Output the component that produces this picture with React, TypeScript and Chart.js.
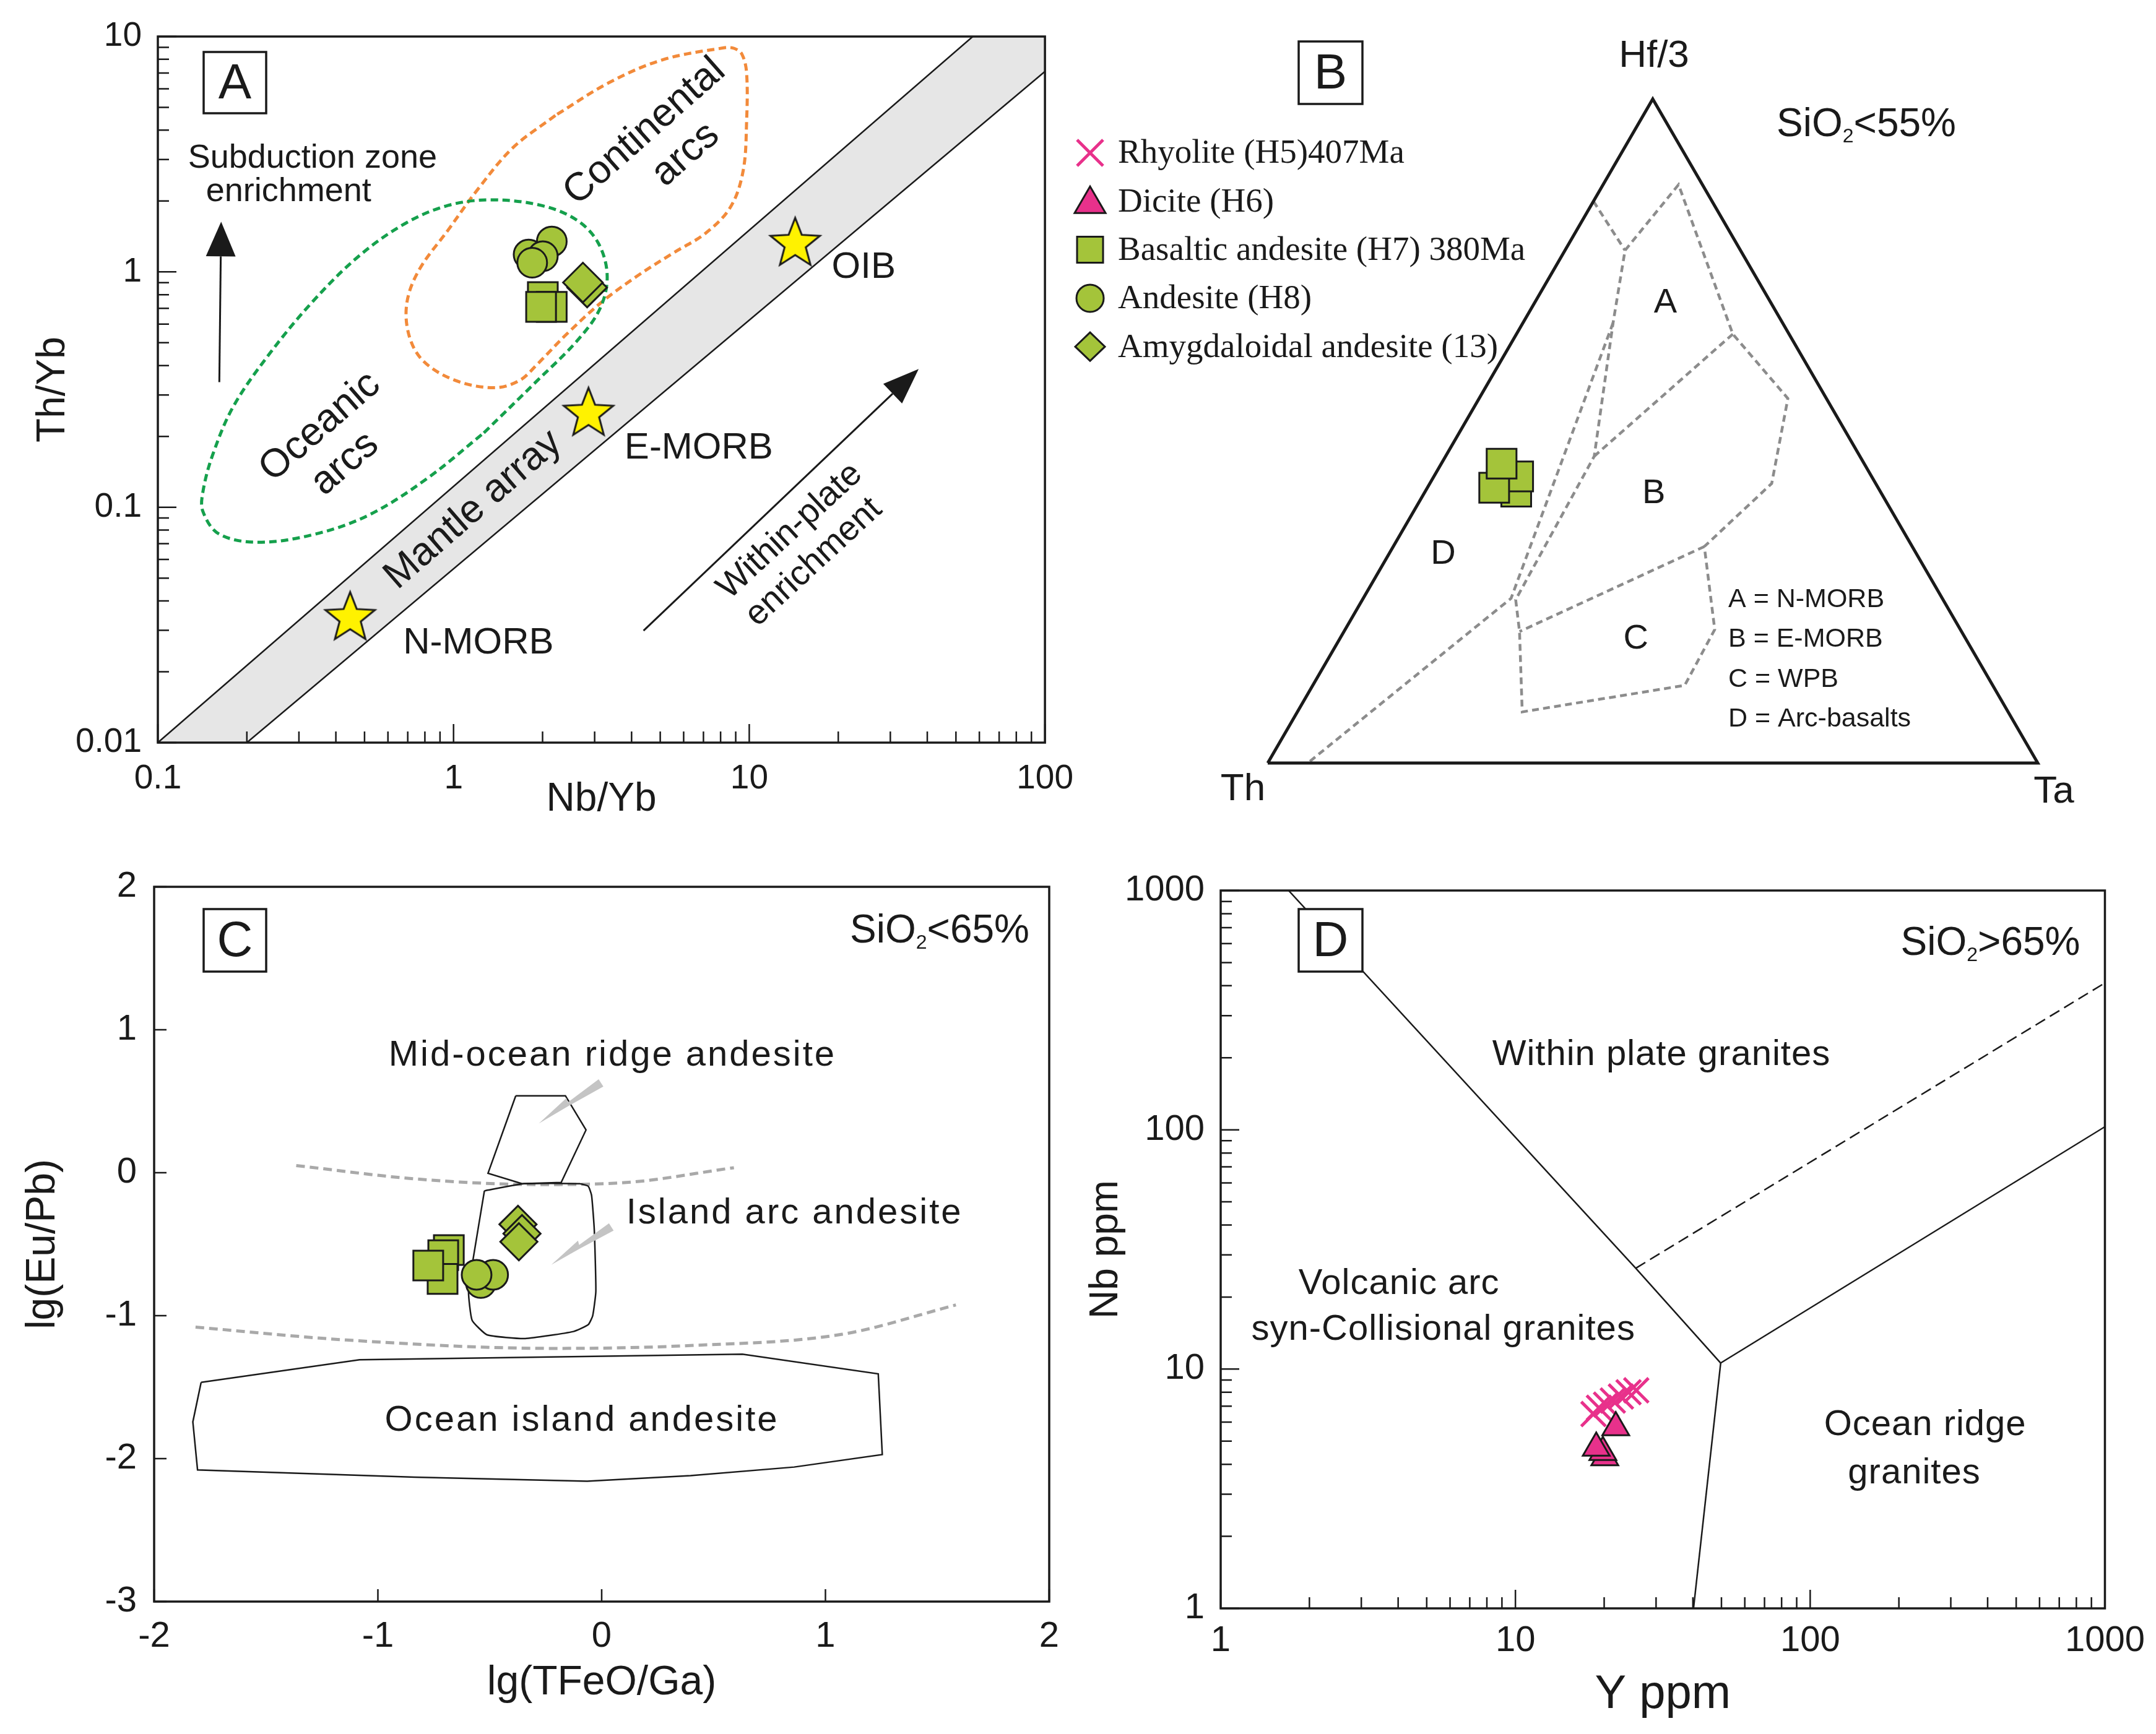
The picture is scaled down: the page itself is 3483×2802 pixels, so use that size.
import React, { useEffect, useRef } from 'react';
import { Chart, registerables } from 'chart.js';

Chart.register(...registerables);

type XY = [number, number];
type Tern = [number, number, number]; // [Th, Hf/3, Ta]

/* ---------------- Panel A : Th/Yb vs Nb/Yb ---------------- */
const aNbYbTicks = [0.1, 1, 10, 100];
const aThYbTicks = [0.01, 0.1, 1, 10];
const aNbYbDecades = [0.1, 1, 10];
const aThYbDecades = [0.01, 0.1, 1];
const minorSteps = [2, 3, 4, 5, 6, 7, 8, 9];
const aMantleBand: XY[] = [[0.1, 0.01], [57, 10], [100, 10], [100, 7.1], [0.2, 0.01], [0.1, 0.01]];
const aMantleUpper: XY[] = [[0.1, 0.01], [57, 10]];
const aMantleLower: XY[] = [[0.2, 0.01], [100, 7.1]];
const aOceanicArcs: XY[] = [
  [1.266, 0.207], [1.923, 0.346], [2.612, 0.508], [3.129, 0.699], [3.308, 0.963], [3.086, 1.326],
  [2.612, 1.659], [1.977, 1.916], [1.339, 2.023], [0.959, 1.916], [0.687, 1.607], [0.478, 1.166],
  [0.333, 0.745], [0.238, 0.447], [0.18, 0.268], [0.153, 0.166], [0.142, 0.116], [0.142, 0.096],
  [0.161, 0.077], [0.219, 0.071], [0.342, 0.077], [0.52, 0.093], [0.811, 0.132], [1.266, 0.207],
];
const aContinentalArcs: XY[] = [
  [2.21, 4.62], [1.582, 3.355], [1.198, 2.213], [0.959, 1.507], [0.767, 1.026], [0.696, 0.745],
  [0.706, 0.541], [0.789, 0.419], [1.013, 0.346], [1.377, 0.322], [1.673, 0.346], [1.923, 0.406],
  [2.402, 0.541], [3.173, 0.745], [4.194, 0.963], [5.538, 1.204], [7.114, 1.459], [8.643, 1.886],
  [9.532, 2.681], [9.795, 4.335], [9.795, 7.003], [9.45, 8.4], [8.9, 8.9], [8.2, 8.95],
  [5.094, 7.963], [3.355, 6.366], [2.21, 4.62],
];
const aRefStars: XY[] = [[0.447, 0.0347], [2.86, 0.256], [14.3, 1.35]];
const aAndesite: XY[] = [[2.149, 1.347], [1.794, 1.185], [2.004, 1.166], [1.845, 1.094]];
const aBasaltic: XY[] = [[2.004, 0.782], [2.148, 0.71], [1.977, 0.71]];
const aAmygdaloidal: XY[] = [[2.83, 0.858], [2.738, 0.901]];
const aSubductionArrow: XY[] = [[0.1614, 0.3402], [0.1637, 1.633]];
const aWithinPlateArrow: XY[] = [[4.39, 0.0299], [37.4, 0.387]];
const aLabels = [
  { t: 'Subduction zone', x: 0.3334, y: 3.03, size: 54, rot: 0 },
  { t: 'enrichment', x: 0.2768, y: 2.18, size: 54, rot: 0 },
  { t: 'Continental', x: 4.434, y: 3.937, size: 64, rot: -41.5 },
  { t: 'arcs', x: 6.102, y: 3.147, size: 64, rot: -41.5 },
  { t: 'Oceanic', x: 0.354, y: 0.2194, size: 64, rot: -41 },
  { t: 'arcs', x: 0.4298, y: 0.1528, size: 64, rot: -41 },
  { t: 'Mantle array', x: 1.166, y: 0.0974, size: 64, rot: -41 },
  { t: 'N-MORB', x: 1.214, y: 0.0265, size: 60, rot: 0 },
  { t: 'E-MORB', x: 6.75, y: 0.1781, size: 60, rot: 0 },
  { t: 'OIB', x: 24.38, y: 1.04, size: 60, rot: 0 },
  { t: 'Within-plate', x: 13.73, y: 0.0791, size: 56, rot: -42.7 },
  { t: 'enrichment', x: 16.55, y: 0.0583, size: 56, rot: -42.7 },
];

/* ---------------- Panel B : Hf/3 - Th - Ta ---------------- */
const bTriangle: Tern[] = [[1, 0, 0], [0, 0, 1], [0, 1, 0], [1, 0, 0]];
const bLineNearApex: Tern[] = [[0.154, 0.846, 0], [0.15, 0.772, 0.078]];
const bLineOuter: Tern[] = [
  [0.15, 0.772, 0.078], [0.031, 0.871, 0.098], [0.073, 0.646, 0.281], [0.05, 0.549, 0.401],
  [0.135, 0.421, 0.444], [0.27, 0.326, 0.404], [0.319, 0.201, 0.48], [0.4, 0.117, 0.483],
  [0.631, 0.077, 0.292], [0.574, 0.198, 0.228], [0.555, 0.246, 0.199], [0.345, 0.462, 0.193],
  [0.22, 0.663, 0.117], [0.15, 0.772, 0.078],
];
const bLineArc: Tern[] = [[0.22, 0.663, 0.117], [0.56, 0.248, 0.192], [0.948, 0, 0.052]];
const bLineAB: Tern[] = [[0.073, 0.646, 0.281], [0.345, 0.462, 0.193]];
const bLineBC: Tern[] = [[0.27, 0.326, 0.404], [0.574, 0.198, 0.228]];
const bBasaltic: Tern[] = [[0.473, 0.4086, 0.1184], [0.459, 0.4316, 0.1094], [0.4986, 0.4146, 0.0868], [0.4709, 0.4508, 0.0783]];
const bFieldNames = ['A', 'B', 'C', 'D'];
const bFieldCentres: Tern[] = [[0.137, 0.6927, 0.17], [0.2958, 0.4059, 0.2983], [0.4285, 0.187, 0.3845], [0.6149, 0.3145, 0.0706]];
const bFieldKey = ['A = N-MORB', 'B = E-MORB', 'C = WPB', 'D = Arc-basalts'];
const legendLabels = ['Rhyolite (H5)407Ma', 'Dicite (H6)', 'Basaltic andesite (H7) 380Ma', 'Andesite (H8)', 'Amygdaloidal andesite (13)'];
const legendShapes = ['crossRot', 'triangle', 'rect', 'circle', 'rectRot'];

/* ---------------- Panel C : lg(Eu/Pb) vs lg(TFeO/Ga) ---------------- */
const cXTicks = [-2, -1, 0, 1, 2];
const cYTicks = [-3, -2, -1, 0, 1, 2];
const cMidOceanRidge: XY[] = [[-0.384, 0.538], [-0.162, 0.538], [-0.07, 0.299], [-0.181, -0.068], [-0.356, -0.077], [-0.508, -0.004], [-0.384, 0.538]];
const cIslandArc: XY[] = [
  [-0.524, -0.126], [-0.347, -0.077], [-0.098, -0.077], [-0.06, -0.095], [-0.045, -0.16], [-0.033, -0.4],
  [-0.026, -0.83], [-0.04, -1.0], [-0.06, -1.063], [-0.126, -1.111], [-0.342, -1.16], [-0.512, -1.134],
  [-0.579, -1.032], [-0.595, -0.834], [-0.577, -0.628], [-0.524, -0.126],
];
const cOceanIsland: XY[] = [
  [-1.79, -1.466], [-1.082, -1.308], [0.629, -1.269], [1.236, -1.407], [1.254, -1.972], [0.86, -2.059],
  [0.397, -2.119], [-0.065, -2.158], [-0.835, -2.13], [-1.806, -2.079], [-1.827, -1.743], [-1.79, -1.466],
];
const cUpperBoundary: XY[] = [[-1.365, 0.05], [-0.835, -0.043], [-0.281, -0.083], [0.089, -0.071], [0.591, 0.035]];
const cLowerBoundary: XY[] = [[-1.815, -1.08], [-1.143, -1.17], [-0.219, -1.229], [0.397, -1.209], [1.075, -1.13], [1.583, -0.925]];
const cBasaltic: XY[] = [[-0.683, -0.541], [-0.708, -0.577], [-0.711, -0.743], [-0.775, -0.649]];
const cAndesite: XY[] = [[-0.54, -0.772], [-0.485, -0.714], [-0.559, -0.714]];
const cAmygdaloidal: XY[] = [[-0.374, -0.361], [-0.356, -0.426], [-0.37, -0.483]];
const cPointers: XY[][] = [[[-0.003, 0.628], [-0.281, 0.344]], [[0.043, -0.379], [-0.225, -0.644]]];
const cLabels = [
  { t: 'Mid-ocean ridge andesite', x: 0.044, y: 0.818 },
  { t: 'Island arc andesite', x: 0.858, y: -0.284 },
  { t: 'Ocean island andesite', x: -0.0925, y: -1.738 },
];

/* ---------------- Panel D : Nb vs Y ---------------- */
const dYTicks = [1, 10, 100, 1000];
const dNbTicks = [1, 10, 100, 1000];
const dDecades = [1, 10, 100];
const dWpgBoundary: XY[] = [[1.7, 1000], [25.6, 26.4], [49.7, 10.6]];
const dOrgBoundary: XY[] = [[49.7, 10.6], [1000, 103]];
const dVagBoundary: XY[] = [[49.7, 10.6], [40.2, 1]];
const dDashedBoundary: XY[] = [[25.6, 26.4], [1000, 411]];
const dRhyolite: XY[] = [[18.4, 6.49], [19.2, 6.89], [20.3, 7.1], [21.4, 7.39], [22.8, 7.68], [24.2, 8.0], [25.7, 8.15]];
const dDicite: XY[] = [[20.1, 4.27], [19.8, 4.49], [18.8, 4.68], [21.9, 5.7]];
const dLabels = [
  { t: 'Within plate granites', x: 31.2, y: 205 },
  { t: 'Volcanic arc', x: 4.02, y: 22.6 },
  { t: 'syn-Collisional granites', x: 5.68, y: 14.6 },
  { t: 'Ocean ridge', x: 245, y: 5.84 },
  { t: 'granites', x: 225, y: 3.66 },
];

/* ---------------- styling ---------------- */
const SANS = '"Liberation Sans", Arial, Helvetica, sans-serif';
const SERIF = '"Liberation Serif", "Times New Roman", serif';
const INK = '#1a1a1a';
const GREEN = '#a4c43a';
const PINK = '#e8318b';
const GREEN_DASH = '#15a04c';
const ORANGE_DASH = '#f28a3a';
const BAND = '#e6e6e6';
const GRAY_B = '#8c8c8c';
const GRAY_C = '#a9a9a9';

const P = (arr: XY[]) => arr.map(([x, y]) => ({ x, y }));
const H = Math.sqrt(3) / 2;
const T = (arr: Tern[]) =>
  arr.map(([th, hf, ta]) => {
    const s = th + hf + ta;
    return { x: (ta + hf / 2) / s, y: (hf / s) * H };
  });
const minorOf = (decades: number[]) => decades.flatMap((d) => minorSteps.map((m) => d * m));

function makeStar(outer: number, inner: number) {
  const c = document.createElement('canvas');
  const s = Math.ceil(outer * 2 + 8);
  c.width = s;
  c.height = s;
  const g = c.getContext('2d') as CanvasRenderingContext2D;
  g.translate(s / 2, s / 2 + outer * 0.1);
  g.beginPath();
  for (let i = 0; i < 10; i++) {
    const r = i % 2 === 0 ? outer : inner;
    const a = -Math.PI / 2 + (i * Math.PI) / 5;
    g.lineTo(r * Math.cos(a), r * Math.sin(a));
  }
  g.closePath();
  g.fillStyle = '#fff200';
  g.fill();
  g.lineWidth = 3;
  g.lineJoin = 'miter';
  g.strokeStyle = INK;
  g.stroke();
  return c;
}

function text(ctx: CanvasRenderingContext2D, s: string, x: number, y: number, size: number, o: any = {}) {
  ctx.save();
  ctx.translate(x, y);
  if (o.rot) ctx.rotate((o.rot * Math.PI) / 180);
  ctx.font = `${size}px ${o.family || SANS}`;
  (ctx as any).letterSpacing = `${o.spacing || 0}px`;
  ctx.fillStyle = o.color || INK;
  ctx.textAlign = o.align || 'center';
  ctx.textBaseline = 'middle';
  const dx = o.spacing && !o.align ? o.spacing / 2 : 0;
  ctx.fillText(s, dx, 0);
  ctx.restore();
}

function sio2(ctx: CanvasRenderingContext2D, right: number, y: number, size: number, rest: string) {
  ctx.save();
  ctx.font = `${size}px ${SANS}`;
  const w1 = ctx.measureText('SiO').width;
  const w3 = ctx.measureText(rest).width;
  ctx.font = `${size * 0.5}px ${SANS}`;
  const w2 = ctx.measureText('2').width;
  ctx.restore();
  const x0 = right - (w1 + w2 + w3);
  text(ctx, 'SiO', x0, y, size, { align: 'left' });
  text(ctx, '2', x0 + w1, y + size * 0.3, size * 0.5, { align: 'left' });
  text(ctx, rest, x0 + w1 + w2, y, size, { align: 'left' });
}

function letterBox(ctx: CanvasRenderingContext2D, x: number, y: number, w: number, h: number, letter: string) {
  ctx.save();
  ctx.fillStyle = '#fff';
  ctx.fillRect(x, y, w, h);
  ctx.strokeStyle = INK;
  ctx.lineWidth = 3.5;
  ctx.strokeRect(x, y, w, h);
  ctx.restore();
  text(ctx, letter, x + w / 2, y + h / 2 + 3, 80);
}

function frame(c: any) {
  const { ctx, chartArea: a } = c;
  ctx.save();
  ctx.strokeStyle = INK;
  ctx.lineWidth = 3.5;
  ctx.strokeRect(a.left, a.top, a.right - a.left, a.bottom - a.top);
  ctx.restore();
}

function insideTicks(c: any, axis: 'x' | 'y', values: number[], len: number) {
  const { ctx, chartArea: a } = c;
  const s = c.scales[axis];
  ctx.save();
  ctx.strokeStyle = INK;
  ctx.lineWidth = 2.5;
  ctx.beginPath();
  for (const v of values) {
    const p = s.getPixelForValue(v);
    if (axis === 'x') {
      ctx.moveTo(p, a.bottom);
      ctx.lineTo(p, a.bottom - len);
    } else {
      ctx.moveTo(a.left, p);
      ctx.lineTo(a.left + len, p);
    }
  }
  ctx.stroke();
  ctx.restore();
}

const px = (c: any, x: number, y: number) => [c.scales.x.getPixelForValue(x), c.scales.y.getPixelForValue(y)];

function arrow(c: any, seg: XY[], headLen: number, headW: number) {
  const ctx = c.ctx as CanvasRenderingContext2D;
  const [x1, y1] = px(c, seg[0][0], seg[0][1]);
  const [x2, y2] = px(c, seg[1][0], seg[1][1]);
  const ang = Math.atan2(y2 - y1, x2 - x1);
  const bx = x2 - headLen * Math.cos(ang);
  const by = y2 - headLen * Math.sin(ang);
  ctx.save();
  ctx.strokeStyle = INK;
  ctx.fillStyle = INK;
  ctx.lineWidth = 3;
  ctx.beginPath();
  ctx.moveTo(x1, y1);
  ctx.lineTo(bx, by);
  ctx.stroke();
  ctx.beginPath();
  ctx.moveTo(x2, y2);
  ctx.lineTo(bx - (headW / 2) * Math.sin(ang), by + (headW / 2) * Math.cos(ang));
  ctx.lineTo(bx + (headW / 2) * Math.sin(ang), by - (headW / 2) * Math.cos(ang));
  ctx.closePath();
  ctx.fill();
  ctx.restore();
}

function pointer(c: any, seg: XY[]) {
  const ctx = c.ctx as CanvasRenderingContext2D;
  const [x1, y1] = px(c, seg[0][0], seg[0][1]);
  const [x2, y2] = px(c, seg[1][0], seg[1][1]);
  const L = Math.hypot(x2 - x1, y2 - y1);
  const ang = Math.atan2(y2 - y1, x2 - x1);
  const shape: XY[] = [[0, -7], [0.55 * L, -2.5], [L, 0], [0.5 * L, 10], [0.52 * L, 3], [0, 7]];
  ctx.save();
  ctx.translate(x1, y1);
  ctx.rotate(ang);
  ctx.fillStyle = '#c4c4c4';
  ctx.beginPath();
  shape.forEach(([u, v], i) => (i ? ctx.lineTo(u, v) : ctx.moveTo(u, v)));
  ctx.closePath();
  ctx.fill();
  ctx.restore();
}

function legendMarker(ctx: CanvasRenderingContext2D, shape: string, x: number, y: number) {
  ctx.save();
  ctx.lineWidth = 3;
  ctx.strokeStyle = INK;
  ctx.fillStyle = GREEN;
  ctx.beginPath();
  if (shape === 'crossRot') {
    ctx.strokeStyle = PINK;
    ctx.lineWidth = 5;
    ctx.moveTo(x - 21, y - 21);
    ctx.lineTo(x + 21, y + 21);
    ctx.moveTo(x + 21, y - 21);
    ctx.lineTo(x - 21, y + 21);
    ctx.stroke();
  } else if (shape === 'triangle') {
    ctx.fillStyle = PINK;
    ctx.moveTo(x, y - 24);
    ctx.lineTo(x + 25, y + 19);
    ctx.lineTo(x - 25, y + 19);
    ctx.closePath();
    ctx.fill();
    ctx.stroke();
  } else if (shape === 'rect') {
    ctx.rect(x - 21, y - 21, 42, 42);
    ctx.fill();
    ctx.stroke();
  } else if (shape === 'circle') {
    ctx.arc(x, y, 22, 0, Math.PI * 2);
    ctx.fill();
    ctx.stroke();
  } else {
    ctx.moveTo(x, y - 23);
    ctx.lineTo(x + 24, y);
    ctx.lineTo(x, y + 23);
    ctx.lineTo(x - 24, y);
    ctx.closePath();
    ctx.fill();
    ctx.stroke();
  }
  ctx.restore();
}

function lineDs(data: any[], color: string, width: number, dash: number[] = [], extra: any = {}) {
  return {
    data, showLine: true, borderColor: color, borderWidth: width, borderDash: dash,
    pointRadius: 0, pointHoverRadius: 0, fill: false, tension: 0, ...extra,
  };
}
function markerDs(data: any[], style: any, radius: number, fill: string, extra: any = {}) {
  return {
    data, showLine: false, pointStyle: style, pointRadius: radius, pointHoverRadius: radius,
    pointBackgroundColor: fill, pointBorderColor: INK, pointBorderWidth: 3,
    backgroundColor: fill, borderColor: INK, ...extra,
  };
}

function axis(o: any) {
  return {
    type: o.type, min: o.min, max: o.max, position: o.horizontal ? 'bottom' : 'left',
    afterBuildTicks: (s: any) => { s.ticks = o.labels.map((v: number) => ({ value: v })); },
    afterFit: (s: any) => { if (o.horizontal) s.height = o.size; else s.width = o.size; },
    grid: { display: false, drawTicks: false },
    border: { display: false },
    ticks: {
      autoSkip: false, maxRotation: 0, minRotation: 0, padding: o.tickPad, color: INK,
      font: { family: SANS, size: o.tickSize }, callback: (v: any) => String(v),
    },
    title: {
      display: true, text: o.title, color: INK, font: { family: SANS, size: o.titleSize },
      padding: o.horizontal ? { top: 0, bottom: o.titlePad } : { top: o.titlePad, bottom: 0 },
    },
  };
}

function baseOptions(padding: any, scales: any) {
  return {
    responsive: false, animation: false, devicePixelRatio: 1, events: [],
    layout: { padding, autoPadding: false },
    plugins: { legend: { display: false }, tooltip: { enabled: false } },
    scales,
  };
}

function buildA(): any {
  const star = makeStar(42, 18);
  return {
    type: 'line',
    data: {
      datasets: [
        markerDs(P(aAmygdaloidal), 'rectRot', 32, GREEN),
        markerDs(P(aBasaltic), 'rect', 34, GREEN),
        markerDs(P(aAndesite), 'circle', 24, GREEN),
        { data: P(aRefStars), showLine: false, pointStyle: star, pointRadius: 40 },
        lineDs(P(aOceanicArcs), GREEN_DASH, 5, [12, 7], { tension: 0.35 }),
        lineDs(P(aContinentalArcs), ORANGE_DASH, 5, [12, 7], { tension: 0.35 }),
        lineDs(P(aMantleUpper), INK, 2.5),
        lineDs(P(aMantleLower), INK, 2.5),
        { data: P(aMantleBand), showLine: true, fill: 'shape', backgroundColor: BAND, borderColor: 'rgba(0,0,0,0)', borderWidth: 1, pointRadius: 0 },
      ],
    },
    options: baseOptions({ left: 0, top: 44, right: 65, bottom: 0 }, {
      x: axis({ type: 'logarithmic', min: 0.1, max: 100, labels: aNbYbTicks, horizontal: true, size: 140, title: 'Nb/Yb', titleSize: 64, titlePad: 9, tickSize: 55, tickPad: 26 }),
      y: axis({ type: 'logarithmic', min: 0.01, max: 10, labels: aThYbTicks, horizontal: false, size: 255, title: 'Th/Yb', titleSize: 64, titlePad: 48, tickSize: 55, tickPad: 26 }),
    }),
    plugins: [{
      id: 'overlayA',
      afterDraw(c: any) {
        const ctx = c.ctx;
        arrow(c, aSubductionArrow, 56, 48);
        arrow(c, aWithinPlateArrow, 58, 44);
        for (const l of aLabels) {
          const [x, y] = px(c, l.x, l.y);
          text(ctx, l.t, x, y, l.size, { rot: l.rot });
        }
        insideTicks(c, 'x', minorOf(aNbYbDecades), 18);
        insideTicks(c, 'x', aNbYbTicks, 30);
        insideTicks(c, 'y', minorOf(aThYbDecades), 18);
        insideTicks(c, 'y', aThYbTicks, 30);
        frame(c);
        const a = c.chartArea;
        letterBox(ctx, a.left + 74, a.top + 25, 101, 99, 'A');
      },
    }],
  };
}

function buildB(): any {
  return {
    type: 'line',
    data: {
      datasets: [
        markerDs(T(bBasaltic), 'rect', 34, GREEN, { clip: false }),
        lineDs(T(bTriangle), INK, 5, [], { clip: false, borderJoinStyle: 'miter' }),
        lineDs(T(bLineNearApex), GRAY_B, 4.5, [11, 7], { clip: false }),
        lineDs(T(bLineOuter), GRAY_B, 4.5, [11, 7], { clip: false }),
        lineDs(T(bLineArc), GRAY_B, 4.5, [11, 7], { clip: false }),
        lineDs(T(bLineAB), GRAY_B, 4.5, [11, 7], { clip: false }),
        lineDs(T(bLineBC), GRAY_B, 4.5, [11, 7], { clip: false }),
      ],
    },
    options: baseOptions({ left: 348, top: 160, right: 191, bottom: 107 }, {
      x: { type: 'linear', min: 0, max: 1, display: false },
      y: { type: 'linear', min: 0, max: H, display: false },
    }),
    plugins: [{
      id: 'overlayB',
      afterDraw(c: any) {
        const ctx = c.ctx;
        const a = c.chartArea;
        const apexX = (a.left + a.right) / 2;
        text(ctx, 'Hf/3', apexX + 2, a.top - 69, 62);
        text(ctx, 'Th', a.left - 40, a.bottom + 43, 62);
        text(ctx, 'Ta', a.right + 26, a.bottom + 47, 62);
        sio2(ctx, a.right - 132, a.top + 42, 64, '<55%');
        T(bFieldCentres).forEach((p, i) => {
          const [x, y] = px(c, p.x, p.y);
          text(ctx, bFieldNames[i], x, y, 56);
        });
        bFieldKey.forEach((s, i) => text(ctx, s, a.left + 744, a.top + 809 + i * 64.5, 43, { align: 'left' }));
        letterBox(ctx, a.left + 50, 67, 103, 101, 'B');
        legendLabels.forEach((s, i) => {
          const y = 247 + i * 78.3;
          legendMarker(ctx, legendShapes[i], 61, y);
          text(ctx, s, 106, y + 2, 55, { align: 'left', family: SERIF });
        });
      },
    }],
  };
}

function buildC(): any {
  return {
    type: 'line',
    data: {
      datasets: [
        markerDs(P(cAmygdaloidal), 'rectRot', 30, GREEN),
        markerDs(P(cAndesite), 'circle', 24, GREEN),
        markerDs(P(cBasaltic), 'rect', 34, GREEN),
        lineDs(P(cMidOceanRidge), INK, 2.5),
        lineDs(P(cIslandArc), INK, 2.5, [], { tension: 0.15 }),
        lineDs(P(cOceanIsland), INK, 2.5),
        lineDs(P(cUpperBoundary), GRAY_C, 5, [14, 8], { cubicInterpolationMode: 'monotone' }),
        lineDs(P(cLowerBoundary), GRAY_C, 5, [14, 8], { cubicInterpolationMode: 'monotone' }),
      ],
    },
    options: baseOptions({ left: 0, top: 93, right: 65, bottom: 0 }, {
      x: axis({ type: 'linear', min: -2, max: 2, labels: cXTicks, horizontal: true, size: 214, title: 'lg(TFeO/Ga)', titleSize: 66, titlePad: 43, tickSize: 58, tickPad: 22 }),
      y: axis({ type: 'linear', min: -3, max: 2, labels: cYTicks, horizontal: false, size: 249, title: 'lg(Eu/Pb)', titleSize: 66, titlePad: 30, tickSize: 58, tickPad: 28 }),
    }),
    plugins: [{
      id: 'overlayC',
      afterDraw(c: any) {
        const ctx = c.ctx;
        cPointers.forEach((seg) => pointer(c, seg));
        for (const l of cLabels) {
          const [x, y] = px(c, l.x, l.y);
          text(ctx, l.t, x, y, 58, { spacing: 3 });
        }
        insideTicks(c, 'x', cXTicks, 20);
        insideTicks(c, 'y', cYTicks, 20);
        frame(c);
        const a = c.chartArea;
        sio2(ctx, a.right - 32, a.top + 72, 64, '<65%');
        letterBox(ctx, a.left + 80, a.top + 36, 101, 101, 'C');
      },
    }],
  };
}

function buildD(): any {
  return {
    type: 'line',
    data: {
      datasets: [
        markerDs(P(dDicite), 'triangle', 25, PINK),
        { data: P(dRhyolite), showLine: false, pointStyle: 'crossRot', pointRadius: 28, pointHoverRadius: 28, pointBorderColor: PINK, pointBorderWidth: 5, pointBackgroundColor: PINK, borderColor: PINK },
        lineDs(P(dWpgBoundary), INK, 2.5),
        lineDs(P(dOrgBoundary), INK, 2.5),
        lineDs(P(dVagBoundary), INK, 2.5),
        lineDs(P(dDashedBoundary), INK, 2.5, [18, 9]),
      ],
    },
    options: baseOptions({ left: 0, top: 99, right: 69, bottom: 0 }, {
      x: axis({ type: 'logarithmic', min: 1, max: 1000, labels: dYTicks, horizontal: true, size: 203, title: 'Y ppm', titleSize: 76, titlePad: 17, tickSize: 58, tickPad: 18 }),
      y: axis({ type: 'logarithmic', min: 1, max: 1000, labels: dNbTicks, horizontal: false, size: 232, title: 'Nb ppm', titleSize: 64, titlePad: 9, tickSize: 58, tickPad: 26 }),
    }),
    plugins: [{
      id: 'overlayD',
      afterDraw(c: any) {
        const ctx = c.ctx;
        for (const l of dLabels) {
          const [x, y] = px(c, l.x, l.y);
          text(ctx, l.t, x, y, 58, { spacing: 1 });
        }
        insideTicks(c, 'x', minorOf(dDecades), 18);
        insideTicks(c, 'x', dYTicks, 30);
        insideTicks(c, 'y', minorOf(dDecades), 18);
        insideTicks(c, 'y', dNbTicks, 30);
        frame(c);
        const a = c.chartArea;
        sio2(ctx, a.right - 40, a.top + 86, 64, '>65%');
        letterBox(ctx, a.left + 126, a.top + 30, 103, 101, 'D');
      },
    }],
  };
}

export default function App() {
  const refA = useRef<HTMLCanvasElement>(null);
  const refB = useRef<HTMLCanvasElement>(null);
  const refC = useRef<HTMLCanvasElement>(null);
  const refD = useRef<HTMLCanvasElement>(null);

  useEffect(() => {
    const charts: Chart[] = [];
    if (refA.current) charts.push(new Chart(refA.current, buildA()));
    if (refB.current) charts.push(new Chart(refB.current, buildB()));
    if (refC.current) charts.push(new Chart(refC.current, buildC()));
    if (refD.current) charts.push(new Chart(refD.current, buildD()));
    return () => charts.forEach((c) => c.destroy());
  }, []);

  const pos = (left: number, top: number, width: number, height: number): React.CSSProperties => ({
    position: 'absolute', left, top, width, height,
  });

  return (
    <div style={{ position: 'absolute', left: 0, top: 0, width: 3483, height: 2802, background: '#fff', overflow: 'hidden' }}>
      <canvas ref={refA} width={1760} height={1340} style={pos(0, 0, 1760, 1340)} />
      <canvas ref={refB} width={1783} height={1340} style={pos(1700, 0, 1783, 1340)} />
      <canvas ref={refC} width={1760} height={1462} style={pos(0, 1340, 1760, 1462)} />
      <canvas ref={refD} width={1743} height={1462} style={pos(1740, 1340, 1743, 1462)} />
    </div>
  );
}
